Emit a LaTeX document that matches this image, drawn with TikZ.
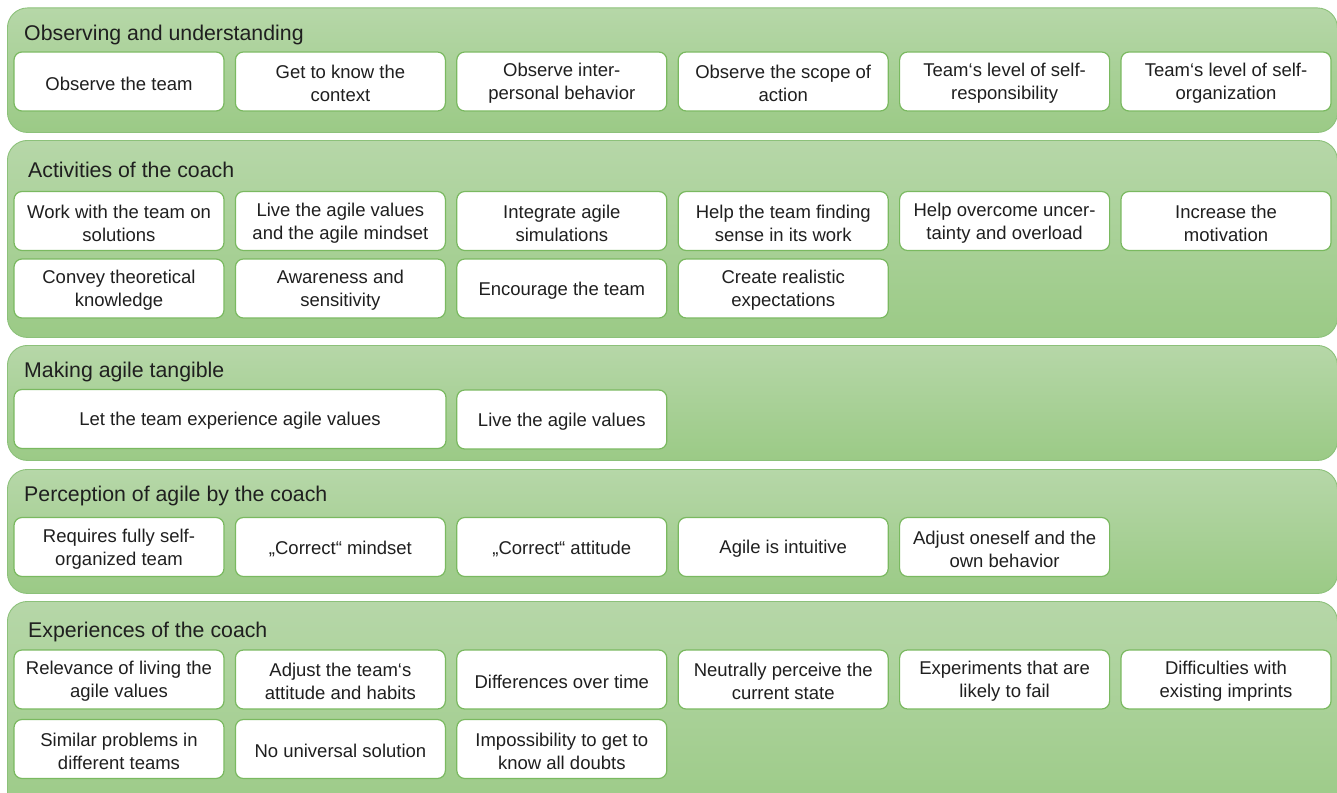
\documentclass[tikz,border=0pt]{standalone}
\usepackage{fontspec}
\setmainfont{Liberation Sans}
\definecolor{ptop}{HTML}{B6D7A8}
\definecolor{pbot}{HTML}{9BCA86}
\definecolor{pborder}{HTML}{8CC17A}
\definecolor{bborder}{HTML}{7AB960}
\definecolor{txt}{HTML}{1F1F1F}
\newcommand\bx[4][]{%
  \node[box,#1] (#2) at (#3) {};
  \node[btext] at ([yshift=-2pt]#2.center) {#4};}
\begin{document}
\begin{tikzpicture}[x=1pt,y=-1pt,
  panel/.style={draw=pborder, line width=0.9pt, top color=ptop, bottom color=pbot,
    rounded corners=20pt, anchor=north west, inner sep=0pt, minimum width=1330pt},
  ptitle/.style={anchor=west, inner sep=0pt, text=txt, font=\fontsize{21.3}{25}\selectfont},
  box/.style={draw=bborder, line width=1.2pt, fill=white, rounded corners=8pt,
    minimum width=210pt, minimum height=59pt, inner sep=0pt},
  btext/.style={align=center, inner sep=0pt, text=txt, font=\fontsize{18.5}{23}\selectfont}]
\useasboundingbox (0,0) rectangle (1337,792);
\clip (0,0) rectangle (1337,792);
% panels
\node[panel, minimum height=124.5pt] (p1) at (7,7.5) {};
\node[panel, minimum height=197pt] (p2) at (7,140) {};
\node[panel, minimum height=115pt] (p3) at (7,345) {};
\node[panel, minimum height=124pt] (p4) at (7,469) {};
\node[panel, minimum height=220pt] (p5) at (7,601) {};
% titles
\node[ptitle] (t1) at (24,35) {Observing and understanding};
\node[ptitle] (t2) at (28,170) {Activities of the coach};
\node[ptitle] (t3) at (24,372) {Making agile tangible};
\node[ptitle] (t4) at (24,496) {Perception of agile by the coach};
\node[ptitle] (t5) at (28,632) {Experiences of the coach};
% panel 1
\bx{a1}{119,81.5}{Observe the team}
\bx{a2}{340.4,81.5}{Get to know the\\context}
\bx{a3}{561.8,81.5}{Observe inter-\\personal behavior}
\bx{a4}{783.2,81.5}{Observe the scope of\\action}
\bx{a5}{1004.6,81.5}{Team‘s level of self-\\responsibility}
\bx{a6}{1226,81.5}{Team‘s level of self-\\organization}
% panel 2
\bx{b1}{119,221}{Work with the team on\\solutions}
\bx{b2}{340.4,221}{Live the agile values\\and the agile mindset}
\bx{b3}{561.8,221}{Integrate agile\\simulations}
\bx{b4}{783.2,221}{Help the team finding\\sense in its work}
\bx{b5}{1004.6,221}{Help overcome uncer-\\tainty and overload}
\bx{b6}{1226,221}{Increase the\\motivation}
\bx{b7}{119,288.5}{Convey theoretical\\knowledge}
\bx{b8}{340.4,288.5}{Awareness and\\sensitivity}
\bx{b9}{561.8,288.5}{Encourage the team}
\bx{b10}{783.2,288.5}{Create realistic\\expectations}
% panel 3
\bx[minimum width=432pt]{c1}{230,419}{Let the team experience agile values}
\bx{c2}{561.8,419.5}{Live the agile values}
% panel 4
\bx{d1}{119,547}{Requires fully self-\\organized team}
\bx{d2}{340.4,547}{„Correct“ mindset}
\bx{d3}{561.8,547}{„Correct“ attitude}
\bx{d4}{783.2,547}{Agile is intuitive}
\bx{d5}{1004.6,547}{Adjust oneself and the\\own behavior}
% panel 5
\bx{e1}{119,679.5}{Relevance of living the\\agile values}
\bx{e2}{340.4,679.5}{Adjust the team‘s\\attitude and habits}
\bx{e3}{561.8,679.5}{Differences over time}
\bx{e4}{783.2,679.5}{Neutrally perceive the\\current state}
\bx{e5}{1004.6,679.5}{Experiments that are\\likely to fail}
\bx{e6}{1226,679.5}{Difficulties with\\existing imprints}
\bx{e7}{119,749}{Similar problems in\\different teams}
\bx{e8}{340.4,749}{No universal solution}
\bx{e9}{561.8,749}{Impossibility to get to\\know all doubts}
\end{tikzpicture}
\end{document}
